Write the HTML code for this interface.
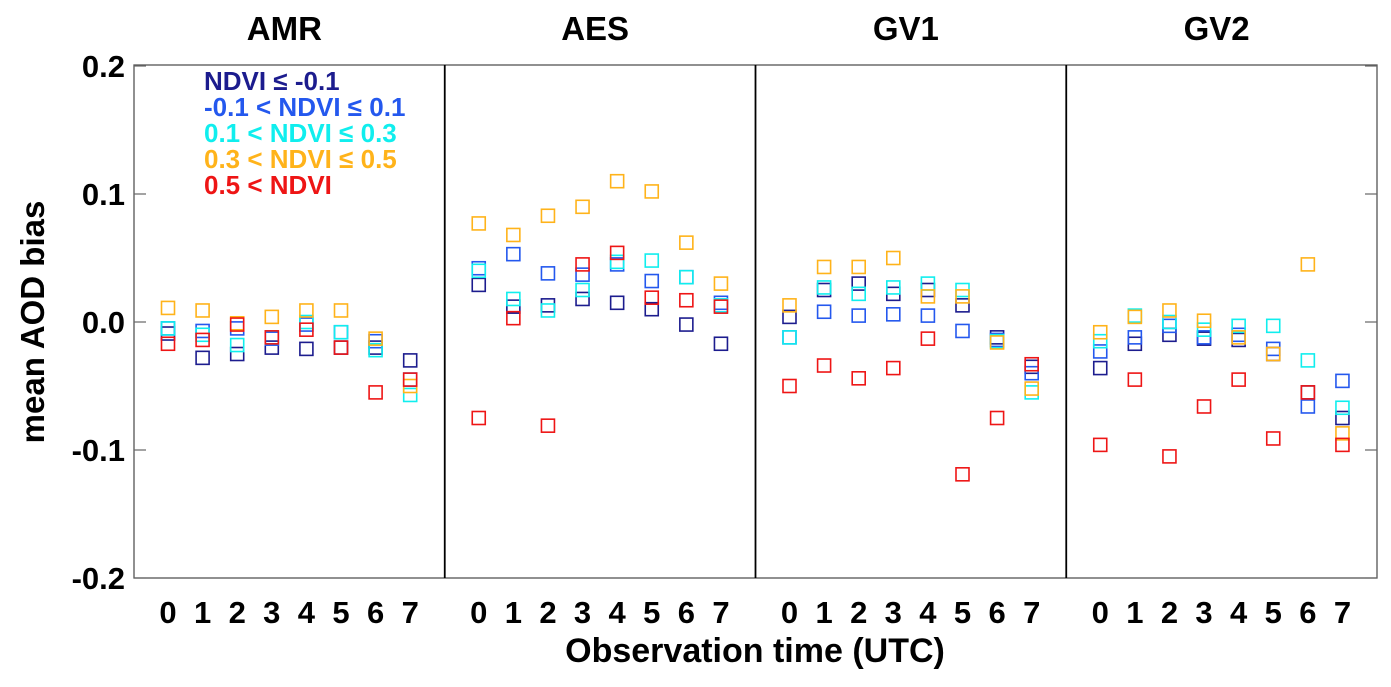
<!DOCTYPE html>
<html><head><meta charset="utf-8"><style>
body{margin:0;background:#fff;}
svg text{font-family:"Liberation Sans",Arial,sans-serif;font-weight:bold;}
</style></head><body>
<svg id="chart" width="1391" height="682" xmlns="http://www.w3.org/2000/svg"></svg>
<script>
const panels = ["AMR","AES","GV1","GV2"];
const hours = [0,1,2,3,4,5,6,7];
const yTicks = [0.2,0.1,0.0,-0.1,-0.2];
const yTickLabels = ["0.2","0.1","0.0","-0.1","-0.2"];
const seriesNames = ["ndvi-le-m01","ndvi-m01-01","ndvi-01-03","ndvi-03-05","ndvi-gt-05"];
const seriesLabels = ["NDVI ≤ -0.1","-0.1 < NDVI ≤ 0.1","0.1 < NDVI ≤ 0.3","0.3 < NDVI ≤ 0.5","0.5 < NDVI"];
const seriesColors = ["#1c1c8e","#2458ee","#10eeee","#ffb31a","#ee1515"];
const amrNavy = [-0.009,-0.028,-0.025,-0.02,-0.021,-0.02,-0.02,-0.03];
const amrBlue = [-0.005,-0.007,-0.005,-0.013,-0.002,-0.008,-0.015,-0.045];
const amrCyan = [-0.005,-0.01,-0.018,-0.012,0.0,-0.008,-0.022,-0.057];
const amrOrange = [0.011,0.009,-0.001,0.004,0.009,0.009,-0.013,-0.05];
const amrRed = [-0.017,-0.014,-0.002,-0.012,-0.006,-0.02,-0.055,-0.045];
const aesNavy = [0.029,0.012,0.013,0.018,0.015,0.01,-0.002,-0.017];
const aesBlue = [0.042,0.053,0.038,0.037,0.045,0.032,0.035,0.015];
const aesCyan = [0.04,0.018,0.009,0.025,0.047,0.048,0.035,0.013];
const aesOrange = [0.077,0.068,0.083,0.09,0.11,0.102,0.062,0.03];
const aesRed = [-0.075,0.003,-0.081,0.045,0.054,0.019,0.017,0.012];
const gv1Navy = [0.004,0.025,0.03,0.022,0.025,0.013,-0.012,-0.035];
const gv1Blue = [-0.012,0.008,0.005,0.006,0.005,-0.007,-0.014,-0.04];
const gv1Cyan = [-0.012,0.027,0.022,0.027,0.03,0.025,-0.015,-0.055];
const gv1Orange = [0.013,0.043,0.043,0.05,0.02,0.02,-0.016,-0.052];
const gv1Red = [-0.05,-0.034,-0.044,-0.036,-0.013,-0.119,-0.075,-0.033];
const gv2Navy = [-0.036,-0.017,-0.01,-0.013,-0.014,-0.025,-0.055,-0.075];
const gv2Blue = [-0.023,-0.012,-0.003,-0.012,-0.01,-0.021,-0.066,-0.046];
const gv2Cyan = [-0.015,0.005,0.0,-0.006,-0.003,-0.003,-0.03,-0.067];
const gv2Orange = [-0.008,0.004,0.009,0.001,-0.012,-0.025,0.045,-0.087];
const gv2Red = [-0.096,-0.045,-0.105,-0.066,-0.045,-0.091,-0.055,-0.096];
const panelData = [
  [amrNavy,amrBlue,amrCyan,amrOrange,amrRed],
  [aesNavy,aesBlue,aesCyan,aesOrange,aesRed],
  [gv1Navy,gv1Blue,gv1Cyan,gv1Orange,gv1Red],
  [gv2Navy,gv2Blue,gv2Cyan,gv2Orange,gv2Red]
];

const svg = document.getElementById('chart');
const NS = 'http://www.w3.org/2000/svg';
const L=134, R=1377, T=65, B=578;
const PW=(R-L)/4;
function yScale(v){ return 322 - v*1280; }
function xScale(p,i){ return L + p*PW + 34 + i*34.6; }
function mk(tag, attrs, parent){ const e=document.createElementNS(NS,tag); for(const k in attrs) e.setAttribute(k,attrs[k]); (parent||svg).appendChild(e); return e; }

const frame = mk('rect',{x:L,y:T,width:R-L,height:B-T,fill:'none',stroke:'#555','stroke-width':1.3});



yTicks.forEach((v,k)=>{
  const y=yScale(v);
  const t1=mk('line',{x1:L,x2:L+12,y1:y,y2:y,stroke:'#666','stroke-width':1.2});
  
  
  const t2=mk('line',{x1:R-12,x2:R,y1:y,y2:y,stroke:'#666','stroke-width':1.2});
  
  
  const lab=mk('text',{x:125,y:y+11,'text-anchor':'end','font-size':31});
  lab.textContent=yTickLabels[k];
  
  
});

panels.forEach((name,p)=>{
  if(p>0){
    const d=mk('line',{x1:L+p*PW,x2:L+p*PW,y1:T,y2:B,stroke:'#000','stroke-width':1.8});
    
    
  }
  const title=mk('text',{x:L+p*PW+PW/2-5,y:40,'text-anchor':'middle','font-size':33});
  title.textContent=name;
  
  
  hours.forEach((h,i)=>{
    const xl=mk('text',{x:xScale(p,i),y:623,'text-anchor':'middle','font-size':31});
    xl.textContent=String(h);
    
    
  });
  panelData[p].forEach((vals,s)=>{
    vals.forEach((v,i)=>{
      const r=mk('rect',{x:xScale(p,i)-6.5,y:yScale(v)-6.5,width:13,height:13,fill:'none',stroke:seriesColors[s],'stroke-width':1.6});
      
      
    });
  });
});

seriesLabels.forEach((lab,s)=>{
  const t=mk('text',{x:204,y:90+s*26,'font-size':26,fill:seriesColors[s]});
  t.textContent=lab;
  
  
});

const xt=mk('text',{x:755,y:662,'text-anchor':'middle','font-size':34});
xt.textContent='Observation time (UTC)';


const yt=mk('text',{x:44,y:322,'text-anchor':'middle','font-size':33,transform:'rotate(-90 44 322)'});
yt.textContent='mean AOD bias';


</script>
</body></html>
